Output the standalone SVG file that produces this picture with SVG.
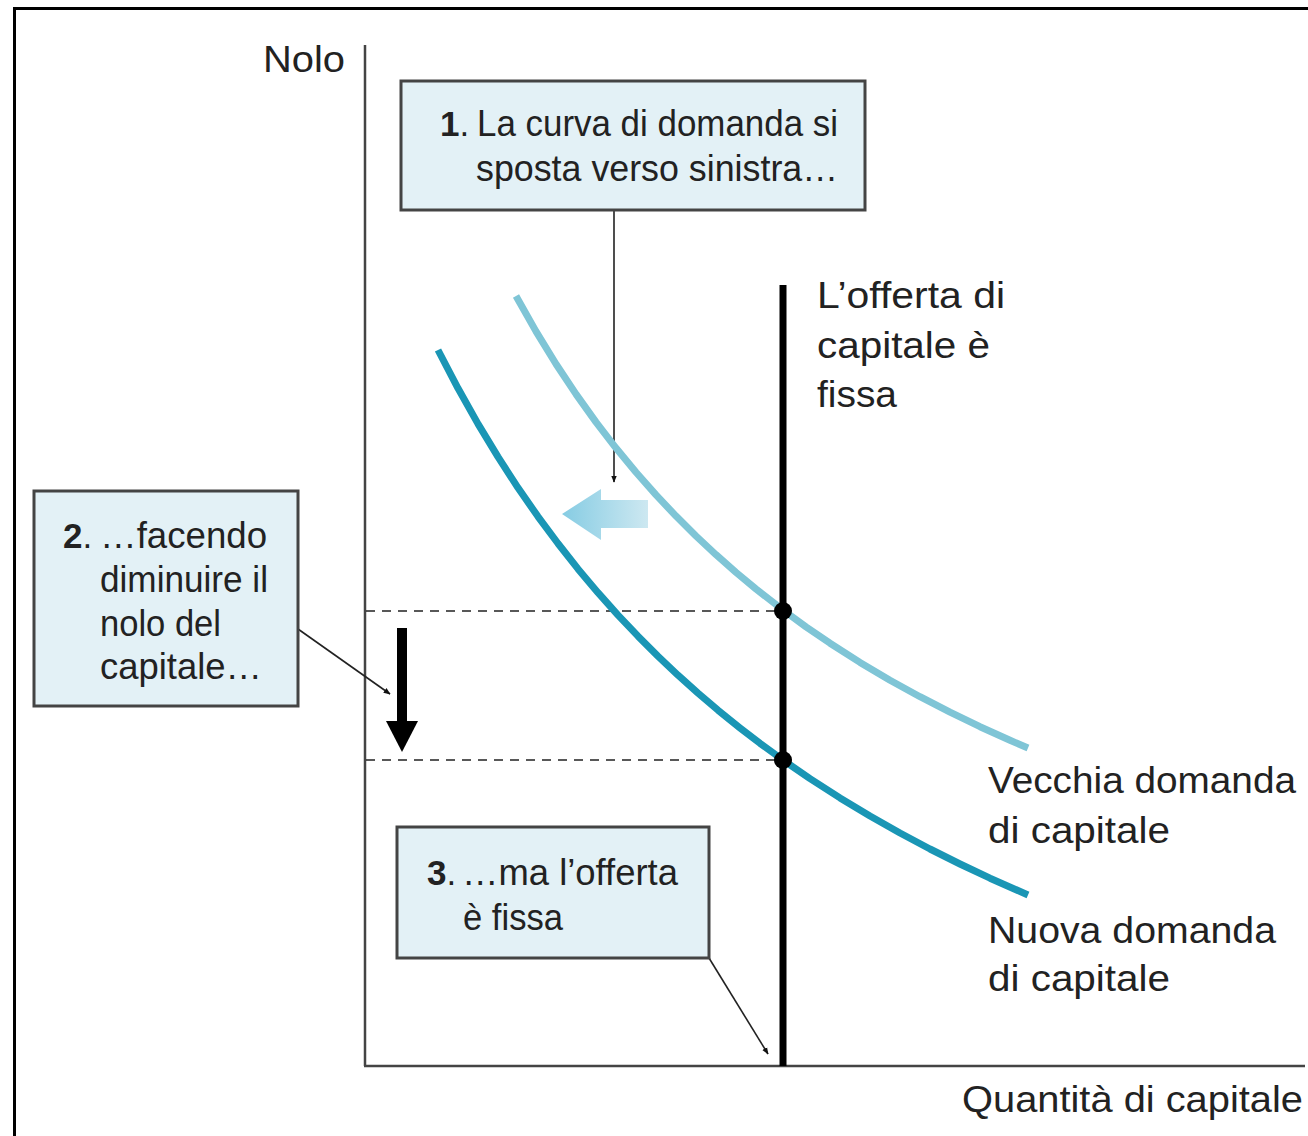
<svg xmlns="http://www.w3.org/2000/svg" width="1308" height="1136" viewBox="0 0 1308 1136">
<defs>
<style>
.t{font-family:"Liberation Sans",Arial,sans-serif;font-size:36px;fill:#222}
.b{font-family:"Liberation Sans",Arial,sans-serif;font-size:35px;fill:#222;font-weight:bold}
.box{fill:#e3f1f6;stroke:#444;stroke-width:3}
.ptr{stroke:#222;stroke-width:1.6;fill:none}
.dash{stroke:#222;stroke-width:1.6;stroke-dasharray:9 7;fill:none}
.axis{stroke:#444;stroke-width:2.5;fill:none}
.curve{fill:none;stroke-width:7;stroke-linejoin:round}
</style>
<marker id="ah" viewBox="0 0 10 10" refX="9" refY="5" markerWidth="7" markerHeight="7" orient="auto" markerUnits="userSpaceOnUse">
<path d="M0,1 L10,5 L0,9 z" fill="#111"/>
</marker>
<linearGradient id="sg" x1="0" y1="0" x2="1" y2="0">
<stop offset="0" stop-color="#86cce3"/>
<stop offset="1" stop-color="#cde8f1"/>
</linearGradient>
</defs>
<rect width="1308" height="1136" fill="#fff"/>
<rect id="frame" x="14.5" y="8.5" width="1320" height="1160" fill="none" stroke="#000" stroke-width="3"/>

<g id="axes">
<line class="axis" x1="365" y1="45" x2="365" y2="1066"/>
<line class="axis" x1="364" y1="1066" x2="1305" y2="1066"/>
<text class="t" x="263" y="72" textLength="82" lengthAdjust="spacingAndGlyphs">Nolo</text>
<text class="t" x="962" y="1112" textLength="341" lengthAdjust="spacingAndGlyphs">Quantità di capitale</text>
</g>

<g id="connectors">
<line class="dash" x1="366" y1="611" x2="783" y2="611"/>
<line class="dash" x1="366" y1="760" x2="783" y2="760"/>
<line class="ptr" x1="614" y1="210" x2="614" y2="482" marker-end="url(#ah)"/>
<line class="ptr" x1="298" y1="629" x2="390" y2="694" marker-end="url(#ah)"/>
<line class="ptr" x1="709" y1="958" x2="768" y2="1054" marker-end="url(#ah)"/>
</g>

<g id="old-demand">
<path class="curve" stroke="#7fc5d6" d="M516,296 L536,331.4 L556,364 L576,394.1 L596,422.1 L616,448.1 L636,472.3 L656,494.9 L676,516.1 L696,536 L716,554.7 L736,572.4 L756,589 L783,610 L806,626.8 L830,643.2 L860,662.4 L890,680.2 L920,696.7 L950,712.2 L980,726.7 L1010,740.3 L1028,748"/>
</g>
<g id="new-demand">
<path class="curve" stroke="#1a96b5" d="M438,350 L458,388.3 L478,423.9 L498,456.9 L518,487.8 L538,516.6 L558,543.5 L578,568.9 L598,592.7 L618,615.1 L638,636.2 L658,656.2 L678,675.2 L698,693.1 L718,710.2 L740,727.9 L760,743.3 L783,760 L810,778.6 L840,797.9 L870,816 L900,833 L930,849 L960,864 L990,878.2 L1028,895"/>
</g>

<g id="shift-arrow">
<path d="M562,514 L601,489 L601,500 L648,500 L648,528 L601,528 L601,540 Z" fill="url(#sg)"/>
</g>

<g id="supply">
<line x1="783" y1="285" x2="783" y2="1066" stroke="#000" stroke-width="7"/>
<circle cx="783" cy="611" r="9" fill="#000"/>
<circle cx="783" cy="760" r="9" fill="#000"/>
<text class="t" x="817" y="308" textLength="188" lengthAdjust="spacingAndGlyphs">L’offerta di</text>
<text class="t" x="817" y="358" textLength="173" lengthAdjust="spacingAndGlyphs">capitale è</text>
<text class="t" x="817" y="407" textLength="80" lengthAdjust="spacingAndGlyphs">fissa</text>
</g>

<g id="down-arrow">
<rect x="397" y="628" width="10" height="96" fill="#000"/>
<path d="M386,721 L418,721 L402,752 Z" fill="#000"/>
</g>

<g id="label-old">
<text class="t" x="988" y="793" textLength="308" lengthAdjust="spacingAndGlyphs">Vecchia domanda</text>
<text class="t" x="988" y="843" textLength="182" lengthAdjust="spacingAndGlyphs">di capitale</text>
</g>
<g id="label-new">
<text class="t" x="988" y="943" textLength="288" lengthAdjust="spacingAndGlyphs">Nuova domanda</text>
<text class="t" x="988" y="991" textLength="182" lengthAdjust="spacingAndGlyphs">di capitale</text>
</g>

<g id="box1">
<rect class="box" x="401" y="81" width="464" height="129"/>
<text class="b" x="440" y="136">1<tspan style="font-weight:normal">.</tspan></text>
<text class="t" x="477" y="136" textLength="361" lengthAdjust="spacingAndGlyphs">La curva di domanda si</text>
<text class="t" x="476" y="181" textLength="362" lengthAdjust="spacingAndGlyphs">sposta verso sinistra…</text>
</g>

<g id="box2">
<rect class="box" x="34" y="491" width="264" height="215"/>
<text class="b" x="63" y="548">2<tspan style="font-weight:normal">.</tspan></text>
<text class="t" x="100" y="548" textLength="167" lengthAdjust="spacingAndGlyphs">…facendo</text>
<text class="t" x="100" y="592" textLength="168" lengthAdjust="spacingAndGlyphs">diminuire il</text>
<text class="t" x="100" y="636" textLength="121" lengthAdjust="spacingAndGlyphs">nolo del</text>
<text class="t" x="100" y="679" textLength="162" lengthAdjust="spacingAndGlyphs">capitale…</text>
</g>

<g id="box3">
<rect class="box" x="397" y="827" width="312" height="131"/>
<text class="b" x="427" y="885">3<tspan style="font-weight:normal">.</tspan></text>
<text class="t" x="462" y="885" textLength="216" lengthAdjust="spacingAndGlyphs">…ma l’offerta</text>
<text class="t" x="463" y="930" textLength="100" lengthAdjust="spacingAndGlyphs">è fissa</text>
</g>
</svg>
